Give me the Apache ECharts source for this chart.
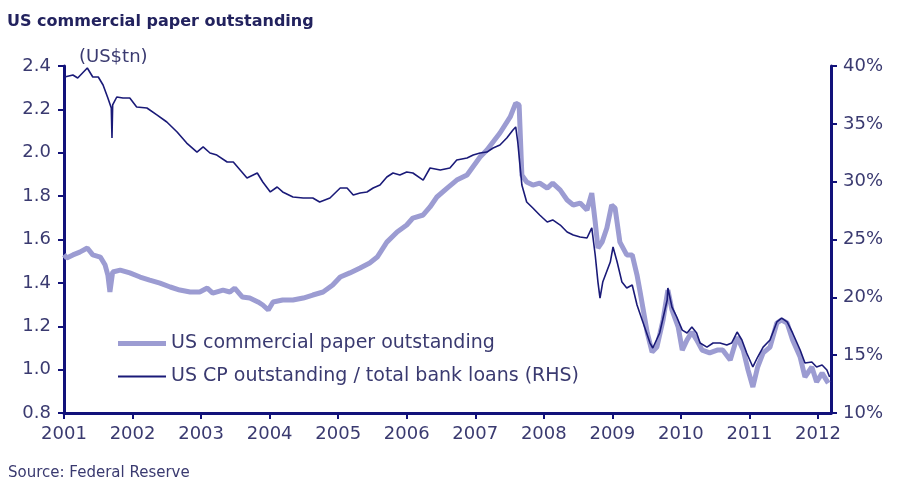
<!DOCTYPE html>
<html>
<head>
<meta charset="utf-8">
<script src="https://cdn.jsdelivr.net/npm/echarts@6/dist/echarts.min.js"></script>
<style>
  html, body { margin: 0; padding: 0; background: #fff; }
  #main { width: 898px; height: 481px; }
</style>
</head>
<body>
<div id="main"></div>
<script>
// US commercial paper outstanding (US$tn), left axis
var cpDates = [2001.0, 2001.04, 2001.13, 2001.23, 2001.34, 2001.42, 2001.53, 2001.6, 2001.64, 2001.67, 2001.71, 2001.82, 2001.96,
  2002.11, 2002.25, 2002.4, 2002.55, 2002.69, 2002.84, 2002.98, 2003.09, 2003.17, 2003.32, 2003.42, 2003.49, 2003.6, 2003.71,
  2003.83, 2003.9, 2003.98, 2004.05, 2004.19, 2004.34, 2004.49, 2004.63, 2004.78, 2004.92, 2005.03, 2005.17, 2005.32, 2005.46,
  2005.57, 2005.71, 2005.86, 2006.0, 2006.09, 2006.24, 2006.34, 2006.44, 2006.59, 2006.73, 2006.88, 2007.07, 2007.17, 2007.36,
  2007.51, 2007.59, 2007.64, 2007.68, 2007.75, 2007.84, 2007.94, 2008.05, 2008.13, 2008.24, 2008.34, 2008.43, 2008.53, 2008.63,
  2008.7, 2008.75, 2008.79, 2008.85, 2008.92, 2008.99, 2009.04, 2009.11, 2009.21, 2009.29, 2009.36, 2009.4, 2009.51, 2009.58,
  2009.65, 2009.74, 2009.81, 2009.87, 2009.96, 2010.02, 2010.09, 2010.16, 2010.23, 2010.31, 2010.42, 2010.53, 2010.61, 2010.72,
  2010.82, 2010.91, 2010.98, 2011.05, 2011.12, 2011.2, 2011.3, 2011.4, 2011.47, 2011.55, 2011.63, 2011.74, 2011.81, 2011.91,
  2011.98, 2012.06, 2012.15];
var cpValues = [1.53, 1.515, 1.529, 1.542, 1.561, 1.529, 1.519, 1.482, 1.436, 1.358, 1.45, 1.459, 1.446,
  1.427, 1.413, 1.399, 1.381, 1.367, 1.358, 1.358, 1.376, 1.353, 1.367, 1.358, 1.376, 1.335, 1.33,
  1.312, 1.298, 1.275, 1.312, 1.321, 1.321, 1.33, 1.344, 1.358, 1.39, 1.427, 1.446, 1.469, 1.492,
  1.519, 1.588, 1.635, 1.667, 1.699, 1.713, 1.75, 1.796, 1.837, 1.874, 1.897, 1.98, 2.013, 2.091,
  2.165, 2.229, 2.22, 1.897, 1.865, 1.851, 1.86, 1.837, 1.86, 1.828, 1.782, 1.759, 1.768, 1.736,
  1.814, 1.681, 1.561, 1.588, 1.653, 1.759, 1.745, 1.588, 1.529, 1.529, 1.436, 1.367, 1.169, 1.081,
  1.104, 1.229, 1.367, 1.275, 1.197, 1.09, 1.137, 1.173, 1.137, 1.09, 1.077, 1.09, 1.09, 1.044,
  1.15, 1.09, 0.998, 0.92, 1.012, 1.077, 1.104, 1.215, 1.229, 1.215, 1.137, 1.058, 0.966, 1.012,
  0.943, 0.984, 0.938];

// US CP outstanding / total bank loans (%), right axis
var ratioDates = [2001.01, 2001.13, 2001.2, 2001.34, 2001.42, 2001.5, 2001.57, 2001.64, 2001.69, 2001.7, 2001.71, 2001.77, 2001.86,
  2001.96, 2002.06, 2002.21, 2002.36, 2002.5, 2002.65, 2002.79, 2002.94, 2003.03, 2003.13, 2003.23, 2003.38, 2003.47, 2003.57,
  2003.67, 2003.82, 2003.9, 2004.01, 2004.11, 2004.19, 2004.34, 2004.49, 2004.63, 2004.73, 2004.88, 2005.03, 2005.13, 2005.22,
  2005.32, 2005.42, 2005.51, 2005.61, 2005.71, 2005.8, 2005.9, 2006.0, 2006.09, 2006.24, 2006.34, 2006.49, 2006.63, 2006.73,
  2006.88, 2006.97, 2007.07, 2007.17, 2007.26, 2007.36, 2007.46, 2007.55, 2007.59, 2007.62, 2007.68, 2007.75, 2007.84, 2007.94,
  2008.05, 2008.13, 2008.24, 2008.34, 2008.43, 2008.53, 2008.63, 2008.7, 2008.75, 2008.79, 2008.82, 2008.86, 2008.97, 2009.01,
  2009.07, 2009.14, 2009.21, 2009.29, 2009.36, 2009.45, 2009.55, 2009.59, 2009.69, 2009.8, 2009.81, 2009.87, 2009.94, 2010.02,
  2010.09, 2010.16, 2010.23, 2010.28, 2010.38, 2010.47, 2010.57, 2010.67, 2010.74, 2010.82, 2010.89, 2010.96, 2011.05, 2011.12,
  2011.2, 2011.3, 2011.4, 2011.47, 2011.55, 2011.63, 2011.74, 2011.81, 2011.91, 2011.98, 2012.06, 2012.13, 2012.17];
var ratioValues = [39.05, 39.22, 38.96, 39.83, 39.05, 39.05, 38.36, 37.23, 36.37, 33.77, 36.63, 37.32, 37.23,
  37.23, 36.46, 36.37, 35.76, 35.16, 34.29, 33.34, 32.56, 33.0, 32.48, 32.3, 31.7, 31.7, 31.01,
  30.32, 30.75, 29.97, 29.11, 29.54, 29.11, 28.67, 28.59, 28.59, 28.24, 28.59, 29.45, 29.45, 28.85,
  29.02, 29.11, 29.45, 29.71, 30.4, 30.75, 30.58, 30.84, 30.75, 30.14, 31.18, 31.01, 31.18, 31.87,
  32.05, 32.3, 32.48, 32.56, 32.91, 33.17, 33.77, 34.47, 34.73, 33.43, 29.71, 28.24, 27.72, 27.12,
  26.51, 26.69, 26.25, 25.65, 25.39, 25.22, 25.13, 26.0, 23.66, 21.32, 19.94, 21.32, 23.05, 24.35,
  23.05, 21.32, 20.81, 21.07, 19.34, 17.78, 16.05, 15.62, 16.92, 19.77, 20.81, 19.16, 18.3, 17.17,
  16.92, 17.43, 16.92, 16.05, 15.7, 16.05, 16.05, 15.88, 16.05, 17.0, 16.31, 15.19, 13.98, 14.84,
  15.7, 16.31, 17.87, 18.21, 17.87, 16.92, 15.45, 14.32, 14.41, 13.98, 14.15, 13.72, 13.11];

var cpName = 'US commercial paper outstanding';
var ratioName = 'US CP outstanding / total bank loans (RHS)';

var navy = '#12127a';
var lightColor = '#9c9cd2';
var darkColor = '#1a1a78';
var textColor = '#3a3a70';
var font = 'DejaVu Sans';

function zip(xs, ys) {
  return xs.map(function (x, i) { return [x, ys[i]]; });
}

var myChart = echarts.init(document.getElementById('main'));
myChart.setOption({
  animation: false,
  backgroundColor: '#fff',
  textStyle: { fontFamily: font },
  title: [
    { text: 'US commercial paper outstanding', left: 2, top: 9,
      textStyle: { fontSize: 16, fontWeight: 'bold', color: '#22225e', fontFamily: font } },
    { text: '(US$tn)', left: 74, top: 43,
      textStyle: { fontSize: 18, fontWeight: 'normal', color: textColor, fontFamily: font } },
    { text: 'Source: Federal Reserve', left: 3, top: 461,
      textStyle: { fontSize: 15, fontWeight: 'normal', color: textColor, fontFamily: font } }
  ],
  // two legends so each sample line gets its own thickness
  legend: [
    {
      left: 113, top: 329, itemWidth: 48, itemHeight: 5, itemGap: 0,
      icon: 'rect',
      textStyle: { fontSize: 19, color: textColor, fontFamily: font },
      data: [cpName]
    },
    {
      left: 113, top: 362, itemWidth: 48, itemHeight: 2, itemGap: 0,
      icon: 'rect',
      textStyle: { fontSize: 19, color: textColor, fontFamily: font },
      data: [ratioName]
    }
  ],
  grid: { left: 64, right: 67, top: 66, bottom: 68 },
  xAxis: {
    type: 'value',
    min: 2001,
    max: 2012.19,
    interval: 1,
    splitLine: { show: false },
    axisLine: { lineStyle: { color: navy, width: 3 } },
    axisTick: { length: 6, lineStyle: { color: navy, width: 2 } },
    axisLabel: { fontSize: 18, color: textColor, margin: 12,
      formatter: function (v) { return String(Math.round(v)); } }
  },
  yAxis: [
    {
      type: 'value', min: 0.8, max: 2.4, interval: 0.2,
      splitLine: { show: false },
      axisLine: { show: true, lineStyle: { color: navy, width: 3 } },
      axisTick: { show: true, length: 6, lineStyle: { color: navy, width: 2 } },
      axisLabel: { fontSize: 18, color: textColor, margin: 13,
        formatter: function (v) { return v.toFixed(1); } }
    },
    {
      type: 'value', min: 10, max: 40, interval: 5, position: 'right',
      splitLine: { show: false },
      axisLine: { show: true, lineStyle: { color: navy, width: 3 } },
      axisTick: { show: true, length: 6, lineStyle: { color: navy, width: 2 } },
      axisLabel: { fontSize: 18, color: textColor, margin: 12, formatter: '{value}%' }
    }
  ],
  series: [
    {
      name: cpName,
      type: 'line',
      yAxisIndex: 0,
      showSymbol: false,
      symbol: 'none',
      color: lightColor,
      lineStyle: { width: 5, color: lightColor },
      data: zip(cpDates, cpValues)
    },
    {
      name: ratioName,
      type: 'line',
      yAxisIndex: 1,
      showSymbol: false,
      symbol: 'none',
      color: darkColor,
      lineStyle: { width: 1.6, color: darkColor },
      data: zip(ratioDates, ratioValues)
    }
  ]
});
</script>
</body>
</html>
